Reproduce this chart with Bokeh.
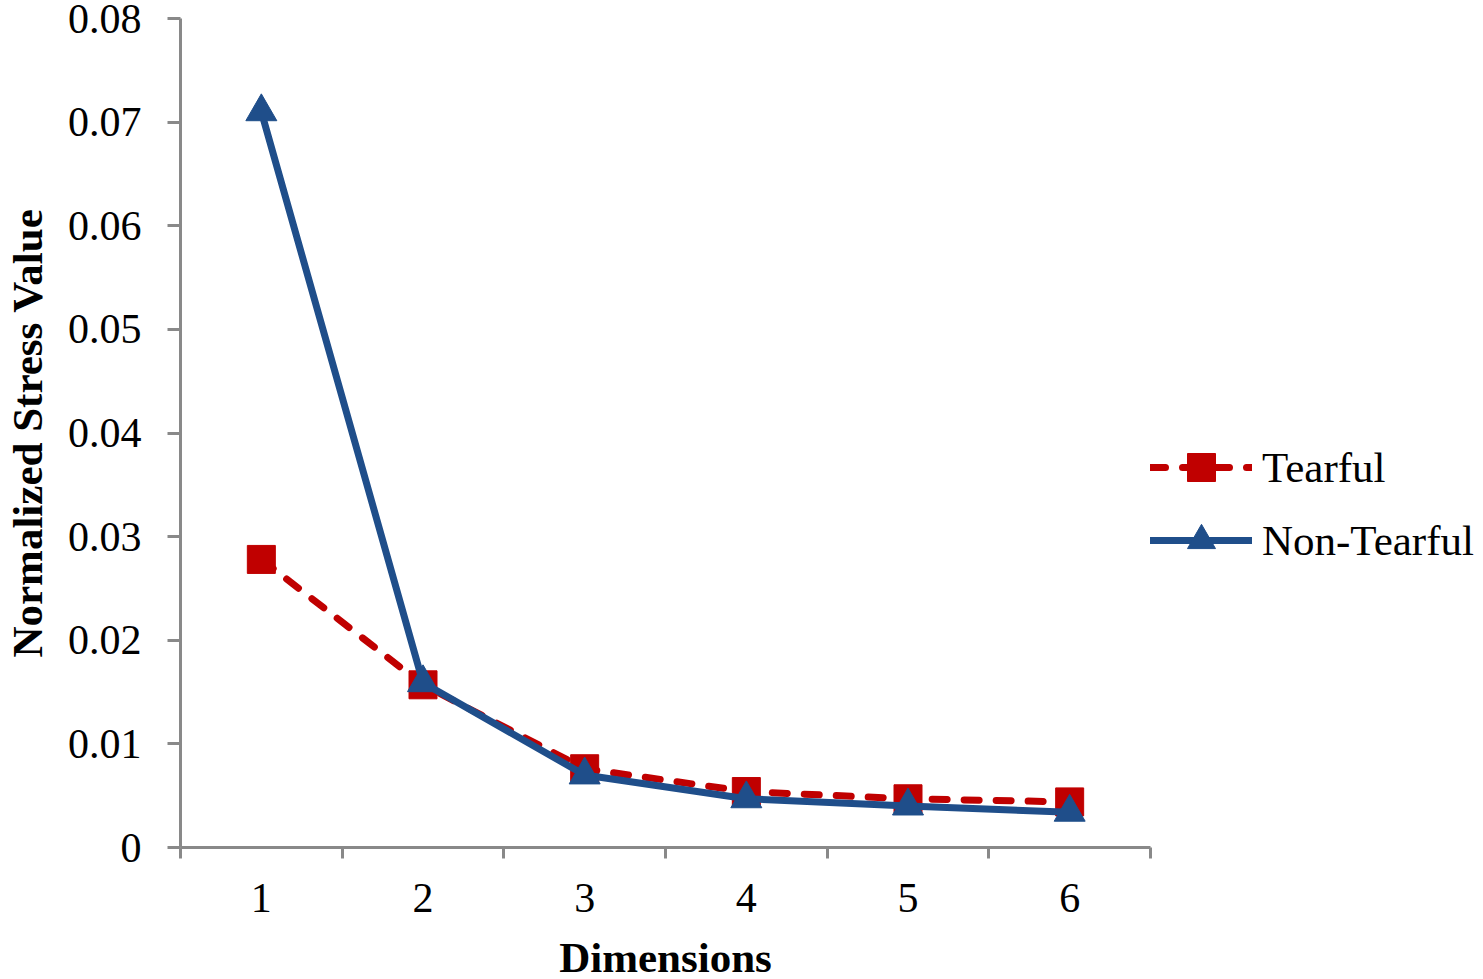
from bokeh.plotting import figure
from bokeh.models import FixedTicker, Range1d, Legend, LegendItem
from bokeh.embed import file_html
from bokeh.resources import INLINE

dimensions = [1, 2, 3, 4, 5, 6]
tearful = [0.0278, 0.0157, 0.0076, 0.0054, 0.0047, 0.0044]
non_tearful = [0.0710, 0.0159, 0.0070, 0.0047, 0.0040, 0.0034]
y_ticks = [0.0, 0.01, 0.02, 0.03, 0.04, 0.05, 0.06, 0.07, 0.08]
y_tick_labels = ["0", "0.01", "0.02", "0.03", "0.04", "0.05", "0.06", "0.07", "0.08"]
x_boundaries = [0.5, 1.5, 2.5, 3.5, 4.5, 5.5, 6.5]

RED = "#C00000"
BLUE = "#1F4E8A"
GRAY = "#898989"
FONT = "Liberation Serif"

p = figure(frame_width=970, frame_height=829, output_backend="svg",
           toolbar_location=None, x_range=Range1d(0.5, 6.5), y_range=Range1d(0, 0.08),
           min_border_left=172, min_border_top=18, min_border_right=0, min_border_bottom=0)
p.outline_line_color = None
p.grid.grid_line_color = None
p.background_fill_color = "white"
p.border_fill_color = "white"

# x axis
p.xaxis.ticker = FixedTicker(ticks=dimensions, minor_ticks=x_boundaries)
p.xaxis.major_tick_line_color = None
p.xaxis.major_tick_in = 0
p.xaxis.major_tick_out = 11
p.xaxis.minor_tick_in = 0
p.xaxis.minor_tick_out = 11
p.xaxis.minor_tick_line_color = GRAY
p.xaxis.minor_tick_line_width = 3
p.xaxis.axis_line_color = GRAY
p.xaxis.axis_line_width = 3
p.xaxis.major_label_text_font = FONT
p.xaxis.major_label_text_font_size = "42px"
p.xaxis.major_label_text_color = "black"
p.xaxis.major_label_standoff = 25
p.xaxis.axis_label = "Dimensions"
p.xaxis.axis_label_text_font = FONT
p.xaxis.axis_label_text_font_size = "43px"
p.xaxis.axis_label_text_font_style = "bold"
p.xaxis.axis_label_text_color = "black"
p.xaxis.axis_label_standoff = 19

# y axis
p.yaxis.ticker = FixedTicker(ticks=y_ticks, minor_ticks=[])
p.yaxis.major_label_overrides = {t: l for t, l in zip(y_ticks, y_tick_labels)}
p.yaxis.major_tick_in = 0
p.yaxis.major_tick_out = 13
p.yaxis.major_tick_line_color = GRAY
p.yaxis.major_tick_line_width = 3
p.yaxis.axis_line_color = GRAY
p.yaxis.axis_line_width = 3
p.yaxis.major_label_text_font = FONT
p.yaxis.major_label_text_font_size = "42px"
p.yaxis.major_label_text_color = "black"
p.yaxis.major_label_standoff = 26
p.yaxis.axis_label = "Normalized Stress Value"
p.yaxis.axis_label_text_font = FONT
p.yaxis.axis_label_text_font_size = "43px"
p.yaxis.axis_label_text_font_style = "bold"
p.yaxis.axis_label_text_color = "black"
p.yaxis.axis_label_standoff = 14

# series
t_line = p.line(dimensions, tearful, line_color=RED, line_width=7, line_dash="15 17", line_cap="round")
t_mark = p.scatter(dimensions, tearful, marker="square", size=28, fill_color=RED, line_color=RED)
n_line = p.line(dimensions, non_tearful, line_color=BLUE, line_width=7, line_cap="round", line_join="round")
n_mark = p.scatter(dimensions, non_tearful, marker="triangle", size=31, fill_color=BLUE, line_color=BLUE)

legend = Legend(items=[LegendItem(label="Tearful", renderers=[t_line, t_mark]),
                       LegendItem(label="Non-Tearful", renderers=[n_line, n_mark])],
                location=(0, 272), orientation="vertical")
legend.border_line_color = None
legend.background_fill_alpha = 0
legend.padding = 0
legend.margin = 0
legend.spacing = 3
legend.glyph_width = 102
legend.glyph_height = 70
legend.label_height = 70
legend.label_standoff = 10
legend.label_text_font = FONT
legend.label_text_font_size = "43px"
legend.label_text_color = "black"
p.add_layout(legend, "right")

open("out.html", "w").write(file_html(p, INLINE))
